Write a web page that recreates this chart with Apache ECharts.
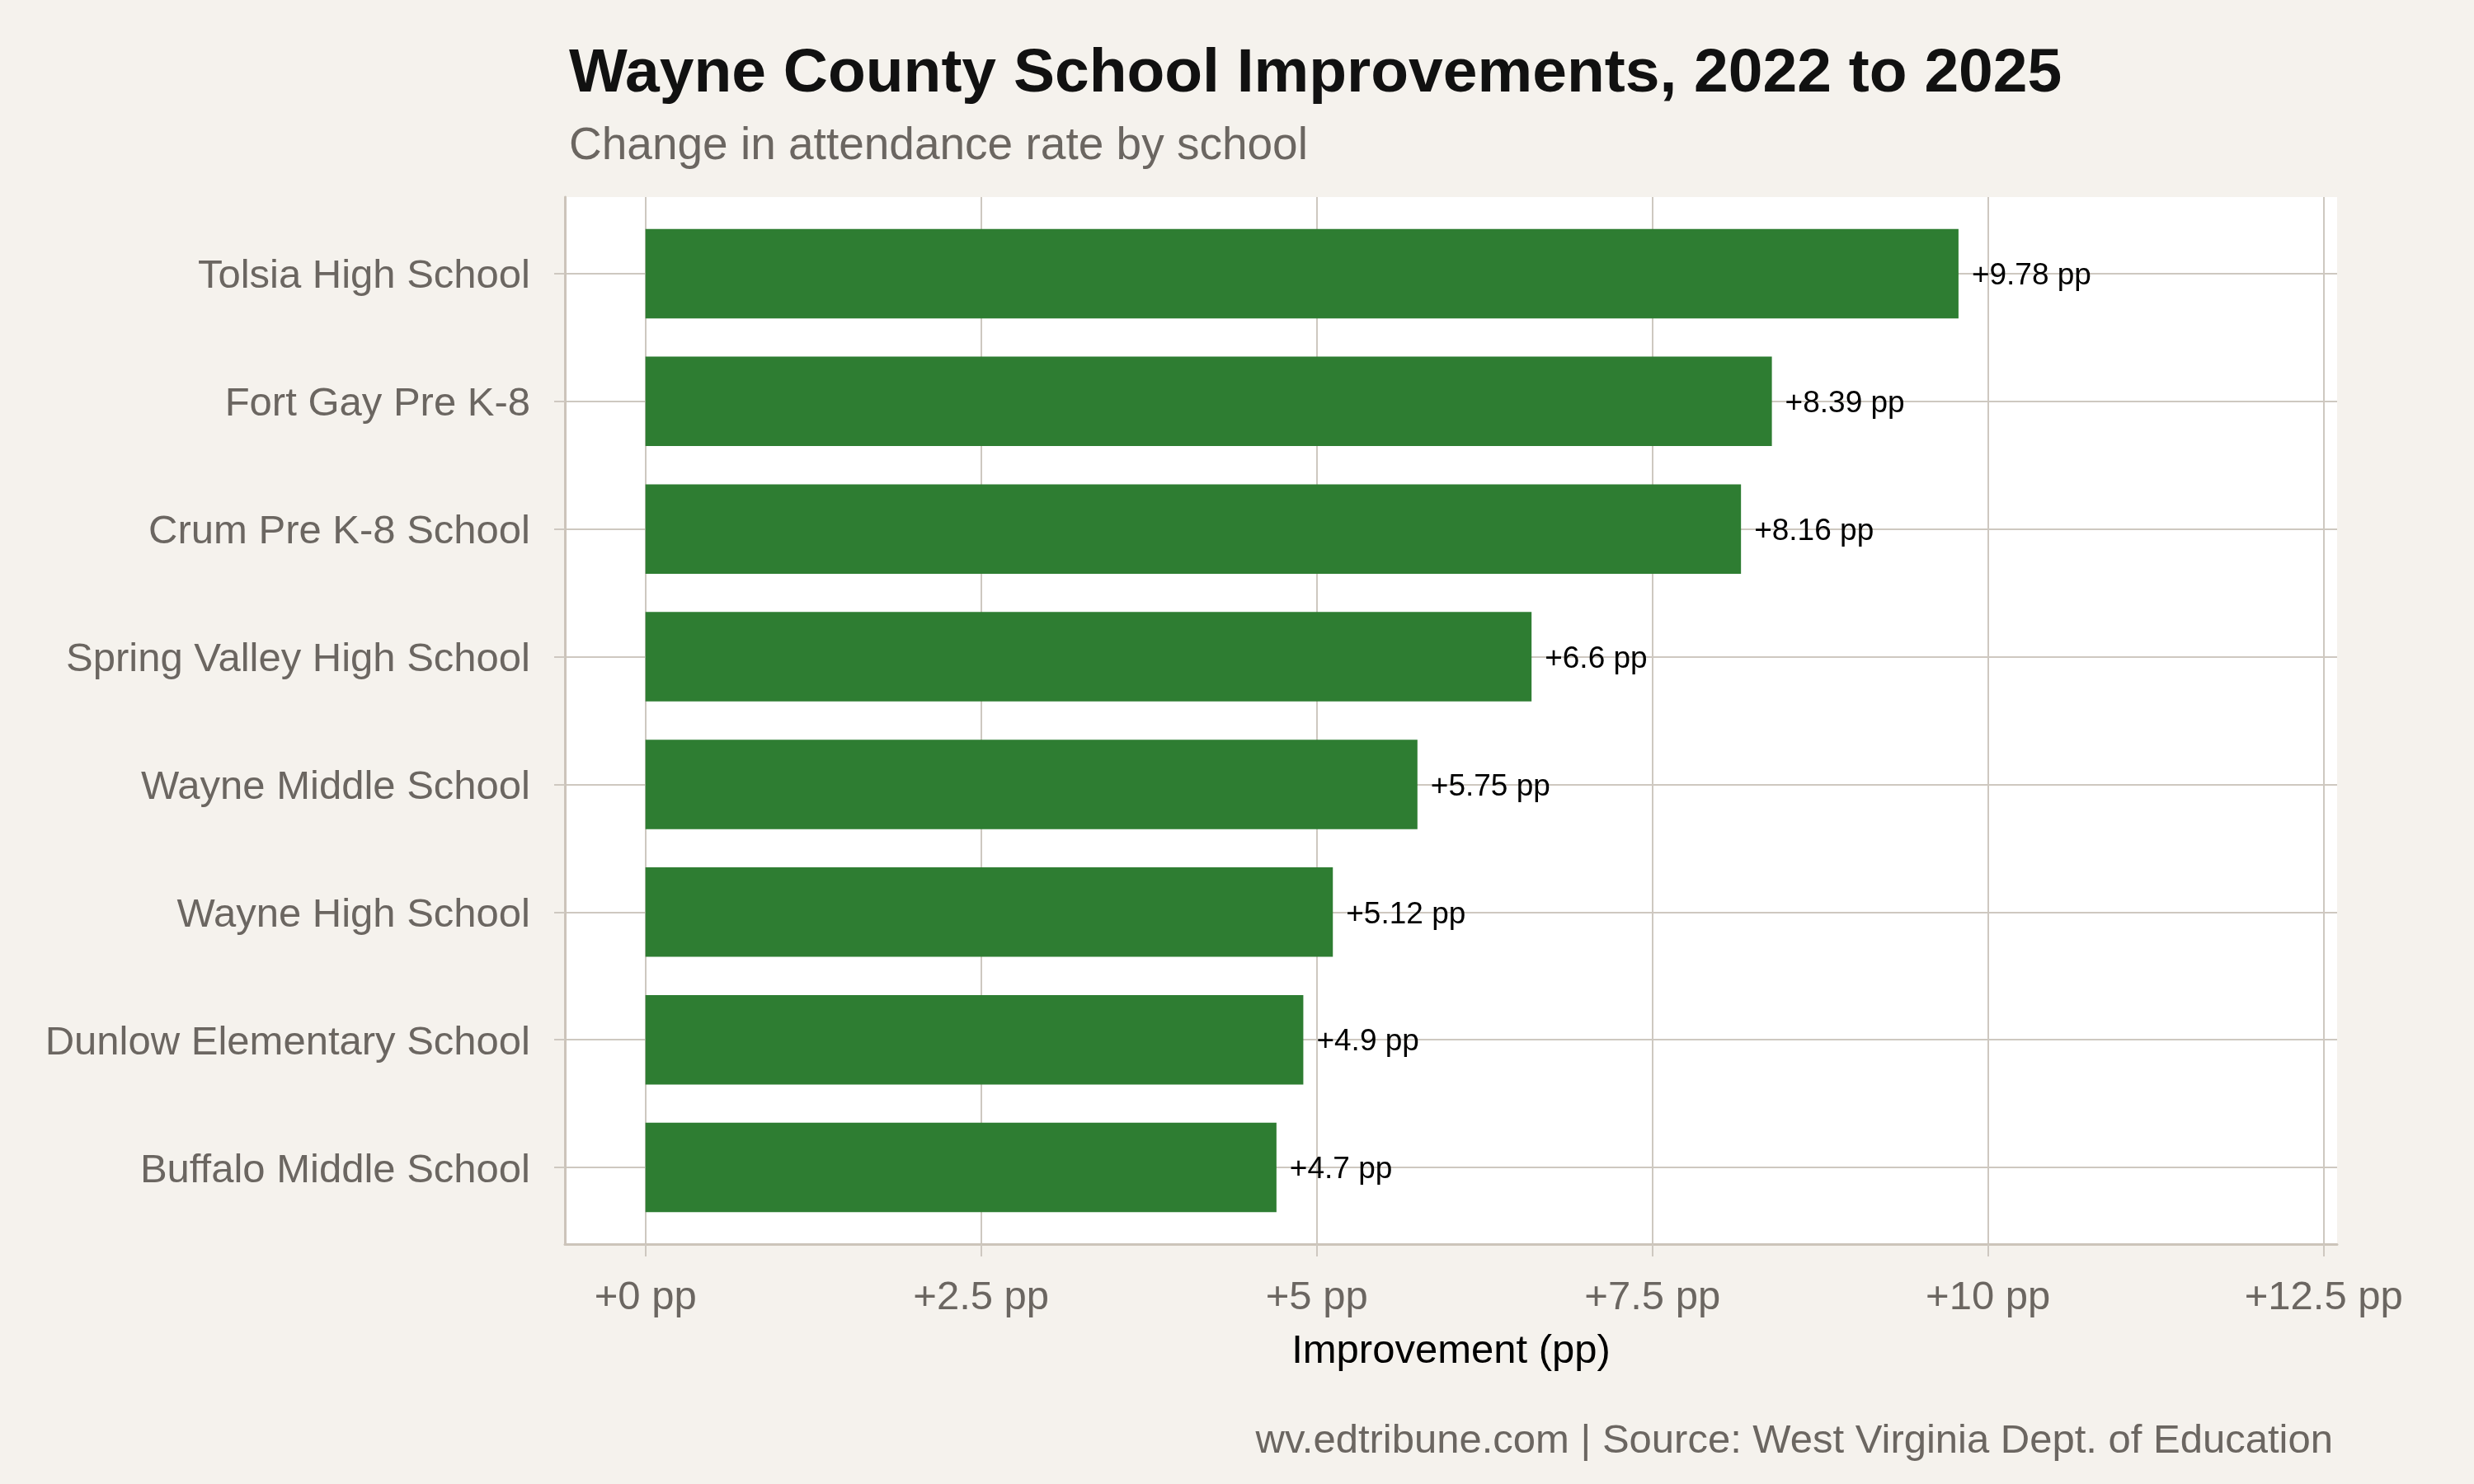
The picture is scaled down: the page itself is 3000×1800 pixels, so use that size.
<!DOCTYPE html>
<html>
<head>
<meta charset="utf-8">
<script src="https://cdn.jsdelivr.net/npm/echarts@6/dist/echarts.min.js"></script>
<style>
  html, body { margin: 0; padding: 0; background: #f5f2ed; }
  #chart { width: 3000px; height: 1800px; }
</style>
</head>
<body>
<div id="chart"></div>
<script>
// schools, top to bottom
const schools = [
  'Tolsia High School',
  'Fort Gay Pre K-8',
  'Crum Pre K-8 School',
  'Spring Valley High School',
  'Wayne Middle School',
  'Wayne High School',
  'Dunlow Elementary School',
  'Buffalo Middle School'
];
// change in attendance rate, percentage points
const improvement = [9.78, 8.39, 8.16, 6.6, 5.75, 5.12, 4.9, 4.7];
// x axis ticks
const xTicks = [0, 2.5, 5, 7.5, 10, 12.5];

const FONT = '"Liberation Sans", Arial, Helvetica, sans-serif';
const GRID_COLOR = '#cec8c0';
const TEXT_GRAY = '#6b6661';
const BAR_COLOR = '#2e7d32';
const BAR_WIDTH = 0.7; // share of one category step

const chart = echarts.init(document.getElementById('chart'));

const option = {
  backgroundColor: '#f5f2ed',
  animation: false,
  title: [
    {
      text: 'Wayne County School Improvements, 2022 to 2025',
      left: 685, top: 48,
      textStyle: { fontFamily: FONT, fontSize: 75, fontWeight: 'bold', color: '#111111', lineHeight: 75 }
    },
    {
      text: 'Change in attendance rate by school',
      left: 685, top: 145,
      textStyle: { fontFamily: FONT, fontSize: 55, fontWeight: 'normal', color: TEXT_GRAY, lineHeight: 55 }
    },
    {
      text: 'wv.edtribune.com | Source: West Virginia Dept. of Education',
      right: 166, top: 1719,
      textStyle: { fontFamily: FONT, fontSize: 49, fontWeight: 'normal', color: TEXT_GRAY, lineHeight: 49 }
    }
  ],
  grid: {
    left: 685, right: 166, top: 239, bottom: 291,
    show: true, backgroundColor: '#ffffff', borderWidth: 0,
    containLabel: false
  },
  xAxis: {
    type: 'value',
    min: -0.6, max: 12.6,
    name: 'Improvement (pp)',
    nameLocation: 'middle',
    nameGap: 106,
    nameTextStyle: { fontFamily: FONT, fontSize: 49, color: '#000000' },
    axisLine: { show: true, onZero: false, lineStyle: { color: '#ccc4ba', width: 3 } },
    axisTick: { show: true, length: 15, customValues: xTicks, lineStyle: { color: GRID_COLOR, width: 2 } },
    axisLabel: {
      customValues: xTicks,
      margin: 41,
      fontFamily: FONT, fontSize: 49, color: TEXT_GRAY,
      formatter: v => '+' + v + ' pp'
    },
    splitLine: { show: true, lineStyle: { color: GRID_COLOR, width: 2 } }
  },
  yAxis: {
    type: 'value',
    inverse: true,
    min: -0.6, max: schools.length - 1 + 0.6,
    axisLine: { show: true, onZero: false, lineStyle: { color: '#ccc4ba', width: 3 } },
    axisTick: { show: true, length: 13, customValues: schools.map((s, i) => i), lineStyle: { color: GRID_COLOR, width: 2 } },
    axisLabel: {
      customValues: schools.map((s, i) => i),
      margin: 42,
      fontFamily: FONT, fontSize: 49, color: TEXT_GRAY,
      formatter: v => '{n|' + schools[v] + '}',
      rich: {
        n: { fontFamily: FONT, fontSize: 49, color: TEXT_GRAY, padding: [8, 0, 0, 0] }
      }
    },
    splitLine: { show: true, lineStyle: { color: GRID_COLOR, width: 2 } }
  },
  series: [
    {
      type: 'custom',
      data: improvement.map((v, i) => [v, i]),
      encode: { x: 0, y: 1 },
      renderItem: function (params, api) {
        const v = api.value(0);
        const i = api.value(1);
        const start = api.coord([0, i]);
        const end = api.coord([v, i]);
        const h = api.size([0, BAR_WIDTH])[1];
        return {
          type: 'group',
          children: [
            {
              type: 'rect',
              shape: { x: start[0], y: start[1] - h / 2, width: end[0] - start[0], height: h },
              style: { fill: BAR_COLOR }
            },
            {
              type: 'text',
              z2: 10,
              style: {
                text: '+' + v + ' pp',
                x: end[0] + 16, y: end[1] + 3,
                align: 'left', verticalAlign: 'middle',
                fill: '#000000', fontSize: 37, fontFamily: FONT
              }
            }
          ]
        };
      }
    }
  ]
};

chart.setOption(option);
</script>
</body>
</html>
